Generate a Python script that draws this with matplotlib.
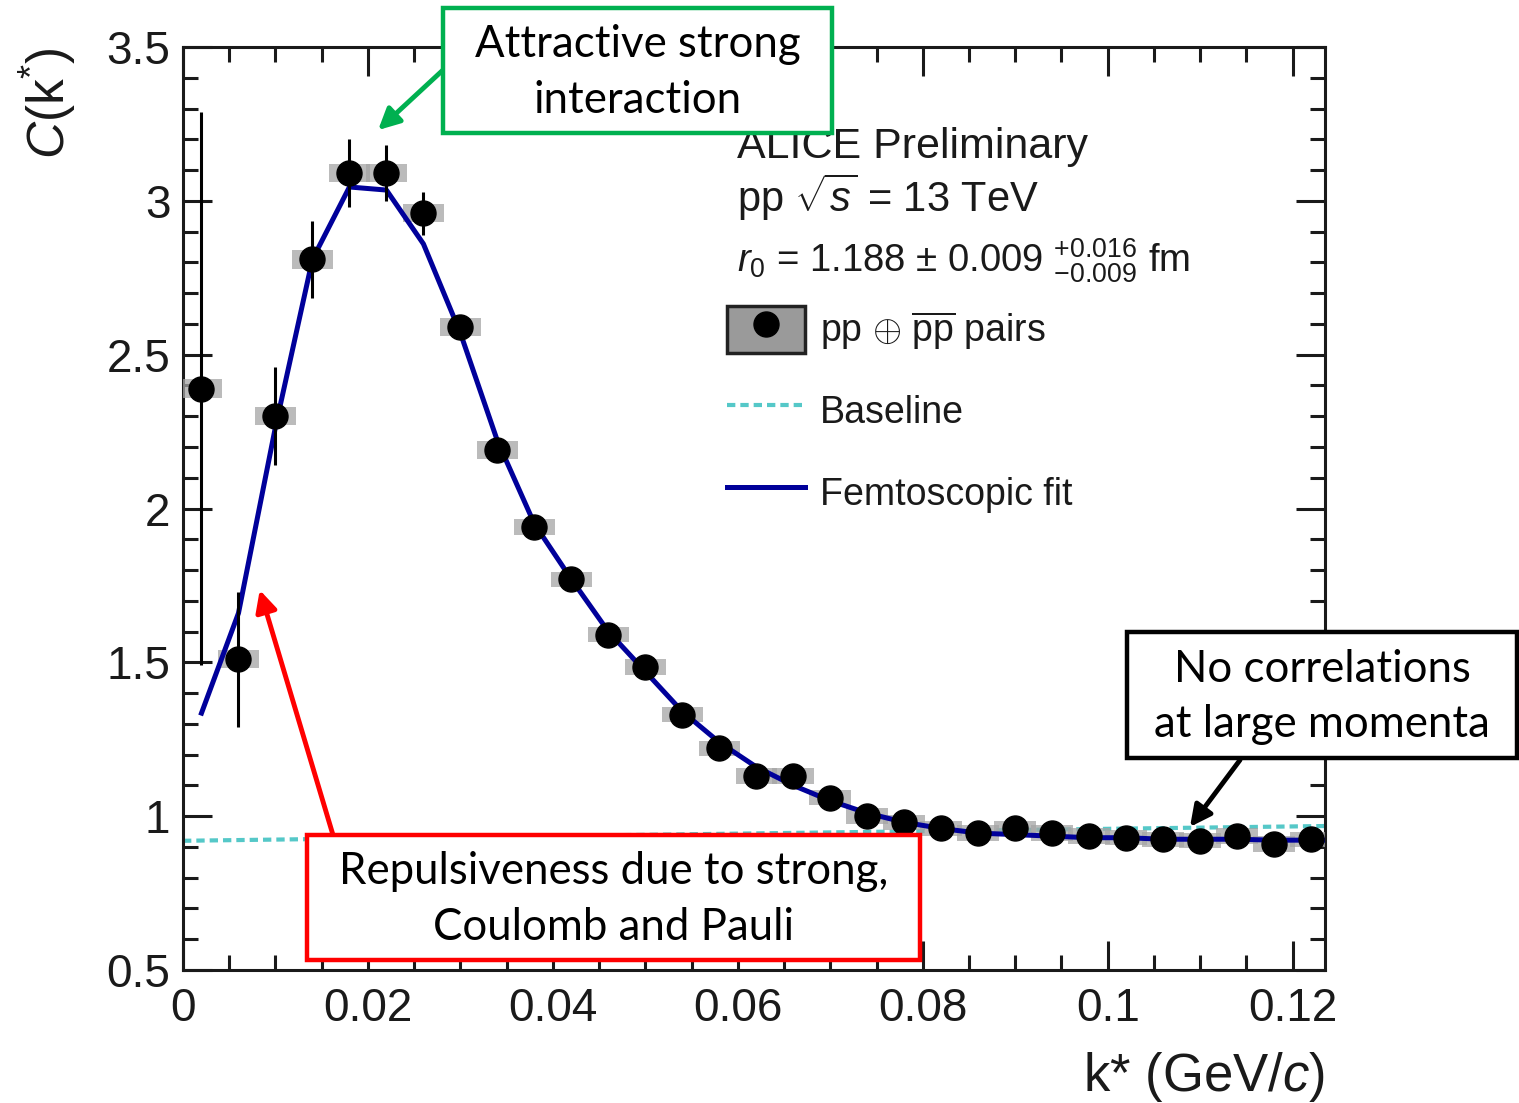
import numpy as np
import matplotlib.pyplot as plt
from matplotlib.patches import Rectangle
from matplotlib.lines import Line2D
from matplotlib.legend_handler import HandlerTuple
from matplotlib.ticker import MultipleLocator, FuncFormatter

plt.rcParams['font.family'] = ['Liberation Sans', 'DejaVu Sans']
plt.rcParams['mathtext.fontset'] = 'custom'
plt.rcParams['mathtext.rm'] = 'Liberation Sans'
plt.rcParams['mathtext.it'] = 'Liberation Sans:italic'
plt.rcParams['mathtext.sf'] = 'Liberation Sans'

# data points (bin centres in GeV/c)
k_star = np.arange(0.002, 0.1225, 0.004)
c_k = [2.39, 1.51, 2.30, 2.81, 3.09, 3.09, 2.96, 2.59, 2.19, 1.94,
       1.77, 1.59, 1.485, 1.33, 1.22, 1.13, 1.13, 1.06, 1.00, 0.98,
       0.96, 0.945, 0.96, 0.945, 0.935, 0.93, 0.925, 0.92, 0.935, 0.91, 0.925]
stat_err = [0.90, 0.22, 0.16, 0.125, 0.11, 0.09, 0.07, 0.04, 0.03, 0.02,
            0.02, 0.015, 0.015, 0.01, 0.01, 0.01, 0.01, 0.01, 0.01, 0.01,
            0.01, 0.01, 0.01, 0.01, 0.01, 0.01, 0.01, 0.01, 0.01, 0.01, 0.01]
syst_err = [0.03] * 9 + [0.025] * 22

# femtoscopic fit
fit_k = [0.002, 0.006, 0.010, 0.014, 0.018, 0.022, 0.026, 0.030, 0.034, 0.038,
         0.042, 0.046, 0.050, 0.054, 0.058, 0.062, 0.066, 0.070, 0.074, 0.078,
         0.082, 0.086, 0.090, 0.094, 0.098, 0.102, 0.106, 0.110, 0.114, 0.118,
         0.122, 0.1235]
fit_c = [1.335, 1.66, 2.265, 2.81, 3.045, 3.035, 2.86, 2.57, 2.22, 1.95,
         1.77, 1.60, 1.47, 1.34, 1.24, 1.16, 1.10, 1.05, 1.01, 0.98,
         0.96, 0.945, 0.94, 0.935, 0.93, 0.93, 0.925, 0.925, 0.925, 0.922,
         0.922, 0.922]

# baseline
baseline_k = [0.0, 0.1235]
baseline_c = [0.92, 0.968]

W, H = 1519, 1103
fig = plt.figure(figsize=(W / 100, H / 100), dpi=100)
ax = fig.add_axes([183 / W, 1 - 970 / H, (1325 - 183) / W, (970 - 47) / H])

txt_col = '#1a1a1a'
fit_col = '#00009a'
base_col = '#55c8c8'

ax.plot(baseline_k, baseline_c, color=base_col, lw=3, ls=(0, (2, 1.2)), zorder=2)
ax.bar(k_star, 2 * np.array(syst_err), bottom=np.array(c_k) - np.array(syst_err),
       width=0.0045, color='#a5a5a5', alpha=0.75, zorder=3)
ax.plot(fit_k, fit_c, color=fit_col, lw=3.6, zorder=4)
ax.errorbar(k_star, c_k, yerr=stat_err, fmt='o', color='black', ms=18,
            elinewidth=2.2, capsize=0, zorder=5)

ax.set_xlim(0, 0.1235)
ax.set_ylim(0.5, 3.5)
ax.xaxis.set_major_locator(MultipleLocator(0.02))
ax.xaxis.set_minor_locator(MultipleLocator(0.005))
ax.yaxis.set_major_locator(MultipleLocator(0.5))
ax.yaxis.set_minor_locator(MultipleLocator(0.1))
fmt = FuncFormatter(lambda v, p: f'{v:g}')
ax.xaxis.set_major_formatter(fmt)
ax.yaxis.set_major_formatter(fmt)
ax.tick_params(which='both', direction='in', top=True, right=True, width=2.2,
               colors=txt_col, labelsize=33)
ax.tick_params(which='major', length=21)
ax.tick_params(which='minor', length=11)
ax.tick_params(axis='x', pad=12)
ax.tick_params(axis='y', pad=9)
for s in ax.spines.values():
    s.set_linewidth(2.2)
    s.set_color(txt_col)

ax.set_xlabel(r'k* (GeV/$c$)', fontsize=38, loc='right', color=txt_col, labelpad=14)
ax.set_ylabel(r'$C$(k$^{*}$)', fontsize=37, loc='top', color=txt_col, labelpad=20)

# header text
fig.text(737 / W, 1 - 158 / H, 'ALICE Preliminary', fontsize=31, color=txt_col, va='baseline')
fig.text(737 / W, 1 - 212 / H, r'pp $\sqrt{s}$ = 13 TeV', fontsize=30, color=txt_col, va='baseline')
fig.text(737 / W, 1 - 272 / H, r'$r_0$ = 1.188 $\pm$ 0.009 $^{+0.016}_{-0.009}$ fm',
         fontsize=27.5, color=txt_col, va='baseline')

# legend
h_data = (Rectangle((0, 0), 1, 1, facecolor='#9a9a9a', edgecolor='#222222', lw=2.5),
          Line2D([], [], marker='o', ls='', color='black', ms=18))
h_base = Line2D([], [], color=base_col, lw=3, ls=(0, (2, 1.2)))
h_fit = Line2D([], [], color=fit_col, lw=3.6)
leg = ax.legend([h_data, h_base, h_fit],
                [r'pp $\oplus$ $\overline{\mathrm{pp}}$ pairs', 'Baseline', 'Femtoscopic fit'],
                handler_map={tuple: HandlerTuple(ndivide=1, pad=0)},
                loc='upper left', bbox_to_anchor=(727 / W, 1 - 306 / H),
                bbox_transform=fig.transFigure, frameon=False, fontsize=27,
                handlelength=2.08, handleheight=1.55, handletextpad=0.4,
                labelspacing=0.92, borderpad=0, borderaxespad=0)
for t in leg.get_texts():
    t.set_color(txt_col)


def note_box(x0, y0, x1, y1, text, color):
    rect = Rectangle((x0 / W, 1 - y1 / H), (x1 - x0) / W, (y1 - y0) / H,
                     transform=fig.transFigure, facecolor='white', edgecolor=color,
                     lw=3.2, zorder=10)
    fig.add_artist(rect)
    fig.text((x0 + x1) / 2 / W, 1 - (y0 + y1 + 4) / 2 / H, text, ha='center', va='center',
             fontsize=31.5, family='Lato', linespacing=1.45, zorder=11)


def note_arrow(tail, head, color):
    ax.annotate('', xy=head, xycoords='data', xytext=(tail[0], H - tail[1]),
                textcoords='figure pixels', annotation_clip=False, zorder=12,
                arrowprops=dict(arrowstyle='-|>', color=color, lw=3.5,
                                mutation_scale=32, shrinkA=0, shrinkB=0))


note_box(443, 8, 832, 133, 'Attractive strong\ninteraction', '#00b050')
note_box(307, 835, 920, 960, 'Repulsiveness due to strong,\nCoulomb and Pauli', '#ff0000')
note_box(1127, 632, 1517, 758, 'No correlations\nat large momenta', 'black')

note_arrow((443, 70), (0.0211, 3.23), '#00b050')
note_arrow((333, 835), (0.0083, 1.735), '#ff0000')
note_arrow((1240, 760), (0.1089, 0.965), 'black')

fig.savefig('out.png', dpi=100)
